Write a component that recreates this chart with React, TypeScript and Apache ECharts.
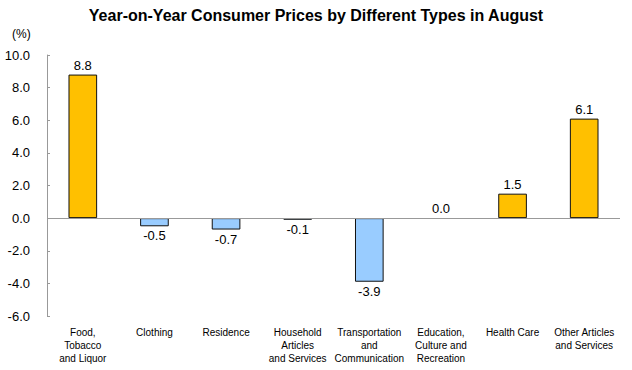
import React, { useEffect, useRef } from "react";
import * as echarts from "echarts";

const categories = [
  "Food,\nTobacco\nand Liquor",
  "Clothing",
  "Residence",
  "Household\nArticles\nand Services",
  "Transportation\nand\nCommunication",
  "Education,\nCulture and\nRecreation",
  "Health Care",
  "Other Articles\nand Services",
];
const values = [8.8, -0.5, -0.7, -0.1, -3.9, 0.0, 1.5, 6.1];
const yTicks = { min: -6, max: 10, interval: 2 };
const titleText = "Year-on-Year Consumer Prices by Different Types in August";
const unitText = "(%)";

const FONT = "'Liberation Sans', Arial, sans-serif";
const NARROW = "'Liberation Sans Narrow', 'Liberation Sans', Arial, sans-serif";

export default function App() {
  const ref = useRef<HTMLDivElement>(null);
  useEffect(() => {
    if (!ref.current) return;
    const chart = echarts.init(ref.current, null, { renderer: "svg" });
    chart.setOption({
      animation: false,
      backgroundColor: "#ffffff",
      title: {
        text: titleText,
        left: "center",
        top: 2,
        textStyle: { fontFamily: FONT, fontSize: 16, fontWeight: "bold", color: "#000" },
      },
      graphic: [
        {
          type: "text",
          left: 12,
          top: 28,
          style: { text: unitText, fontFamily: FONT, fontSize: 12, fill: "#000" },
        },
      ],
      grid: { left: 47, right: 12, top: 55, bottom: 54, containLabel: false },
      xAxis: {
        type: "category",
        data: categories,
        axisLine: { show: false, onZero: false },
        axisTick: { show: false },
        axisLabel: {
          interval: 0,
          margin: 10,
          fontFamily: NARROW,
          fontSize: 10,
          lineHeight: 13,
          color: "#000",
        },
      },
      yAxis: {
        type: "value",
        min: yTicks.min,
        max: yTicks.max,
        interval: yTicks.interval,
        axisLine: { show: true, lineStyle: { color: "#999", width: 1 } },
        axisTick: { show: true, inside: true, length: 3, lineStyle: { color: "#999" } },
        splitLine: { show: false },
        axisLabel: {
          margin: 17,
          fontFamily: FONT,
          fontSize: 13,
          color: "#000",
          formatter: (v: number) => v.toFixed(1),
        },
      },
      series: [
        {
          type: "bar",
          barWidth: "40%",
          data: values.map((v) => ({
            value: v,
            itemStyle: {
              color: v >= 0 ? "#FFC000" : "#99CCFF",
              borderColor: "#111",
              borderWidth: v === 0 ? 0 : 1,
            },
            label: {
              show: true,
              position: v >= 0 ? "top" : "bottom",
              distance: 3,
              fontFamily: FONT,
              fontSize: 13,
              color: "#000",
              formatter: (p: any) => Number(p.value).toFixed(1),
            },
          })),
          markLine: {
            silent: true,
            symbol: "none",
            label: { show: false },
            lineStyle: { color: "#999", type: "solid", width: 1 },
            data: [{ yAxis: 0 }],
          },
        },
      ],
    });
    return () => chart.dispose();
  }, []);
  return <div ref={ref} style={{ width: 632, height: 370, position: "absolute", left: 0, top: 0 }} />;
}
